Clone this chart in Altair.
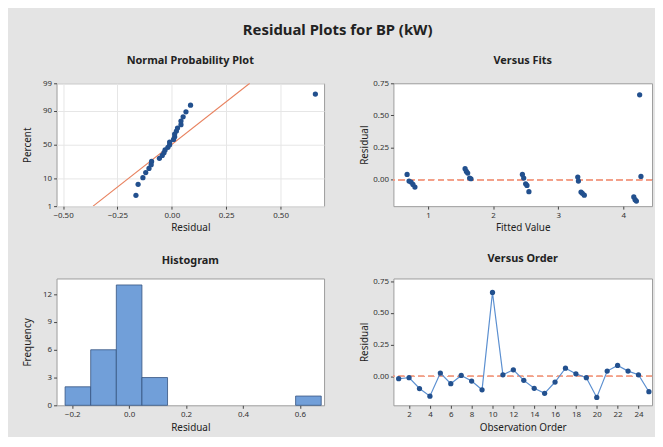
import altair as alt
import pandas as pd
import numpy as np
from statistics import NormalDist

# ---------------- data ----------------
order = list(range(1, 26))
residuals = [-0.018, -0.010, -0.095, -0.155, 0.026, -0.057, 0.008, -0.036, -0.105, 0.660,
             0.013, 0.052, -0.031, -0.093, -0.133, -0.044, 0.065, 0.021, -0.010, -0.165,
             0.042, 0.086, 0.042, 0.013, -0.120]
fits = [0.74, 0.71, 3.35, 4.18, 4.27, 0.80, 1.66, 0.77, 3.37, 4.25,
        1.64, 1.61, 2.50, 2.55, 4.16, 2.52, 1.59, 3.30, 3.31, 4.20,
        0.68, 1.57, 2.45, 2.47, 3.40]
pct_ticks = [1, 10, 50, 90, 99]
np_x_ticks = [-0.50, -0.25, 0.00, 0.25, 0.50]
hist_x_ticks = [-0.2, 0.0, 0.2, 0.4, 0.6]
hist_y_ticks = [0, 3, 6, 9, 12]
fit_x_ticks = [1, 2, 3, 4]
res_y_ticks = [0.00, 0.25, 0.50, 0.75]
order_x_ticks = list(range(2, 25, 2))
bin_start = -0.225
bin_width = 0.09
n_bins = 10

FONT = "Noto Sans"
DOT = "#22508e"
LINE_BLUE = "#5b8fd0"
FIT_RED = "#e8815e"
REF = "#f2a08a"
BAR_FILL = "#719fd9"
BAR_STROKE = "#34537f"

# ---------------- derived tables ----------------
nd = NormalDist()
n = len(residuals)
sorted_res = sorted(residuals)
zq = [nd.inv_cdf((i - 0.3) / (n + 0.4)) for i in range(1, n + 1)]
np_df = pd.DataFrame({"res": sorted_res, "z": zq})
mean = float(np.mean(residuals))
sd = float(np.std(residuals, ddof=1))
zlo, zhi = nd.inv_cdf(0.01), nd.inv_cdf(0.99)
line_df = pd.DataFrame({"res": [mean + sd * zlo, mean + sd * zhi], "z": [zlo, zhi]})
z_ticks = [nd.inv_cdf(p / 100) for p in pct_ticks]
label_expr = "".join(
    f"abs(datum.value - ({z:.6f})) < 0.001 ? '{p}' : " for z, p in zip(z_ticks, pct_ticks)
) + "''"

edges = bin_start + bin_width * np.arange(n_bins + 1)
counts, _ = np.histogram(residuals, bins=edges)
hist_df = pd.DataFrame({"lo": edges[:-1], "hi": edges[1:], "count": counts})
hist_df = hist_df[hist_df["count"] > 0]

df = pd.DataFrame({"order": order, "res": residuals, "fit": fits})


def ptitle(t):
    return alt.TitleParams(t, fontSize=11, fontWeight="bold", offset=13, anchor="middle",
                           font=FONT, color="#222222")


# ---------------- panel 1: normal probability ----------------
x1 = alt.X("res:Q", scale=alt.Scale(domain=[-0.53, 0.70], nice=False, zero=False),
           axis=alt.Axis(title="Residual", values=np_x_ticks, format=".2f", grid=True))
y1 = alt.Y("z:Q", scale=alt.Scale(domain=[zlo, zhi], nice=False, zero=False),
           axis=alt.Axis(title="Percent", values=z_ticks, labelExpr=label_expr, grid=True))
np_line = alt.Chart(line_df).mark_line(color=FIT_RED, strokeWidth=1.2, clip=True).encode(x=x1, y=y1)
np_pts = alt.Chart(np_df).mark_circle(size=28, color=DOT, opacity=1).encode(x=x1, y=y1)
p1 = alt.layer(np_line, np_pts).properties(width=270, height=124,
                                           title=ptitle("Normal Probability Plot"))

# ---------------- panel 2: versus fits ----------------
x2 = alt.X("fit:Q", scale=alt.Scale(domain=[0.47, 4.44], nice=False, zero=False),
           axis=alt.Axis(title="Fitted Value", values=fit_x_ticks, format="d"))
y2 = alt.Y("res:Q", scale=alt.Scale(domain=[-0.205, 0.75], nice=False, zero=False),
           axis=alt.Axis(title="Residual", values=res_y_ticks, format=".2f"))
ref2 = alt.Chart(df).mark_rule(color=REF, strokeDash=[6, 4], strokeWidth=1).encode(y=alt.datum(0))
pts2 = alt.Chart(df).mark_circle(size=28, color=DOT, opacity=1).encode(x=x2, y=y2)
p2 = alt.layer(ref2, pts2).properties(width=261, height=124, title=ptitle("Versus Fits"))

# ---------------- panel 3: histogram ----------------
x3 = alt.X("lo:Q", scale=alt.Scale(domain=[-0.255, 0.685], nice=False, zero=False),
           axis=alt.Axis(title="Residual", values=hist_x_ticks, format=".1f"))
y3 = alt.Y("count:Q", scale=alt.Scale(domain=[0, 13.7], nice=False),
           axis=alt.Axis(title="Frequency", values=hist_y_ticks, format="d"))
p3 = alt.Chart(hist_df).mark_rect(fill=BAR_FILL, stroke=BAR_STROKE, strokeWidth=0.8).encode(
    x=x3, x2="hi:Q", y=y3, y2=alt.datum(0)
).properties(width=270, height=128, title=ptitle("Histogram"))

# ---------------- panel 4: versus order ----------------
x4 = alt.X("order:Q", scale=alt.Scale(domain=[0.5, 25.3], nice=False, zero=False),
           axis=alt.Axis(title="Observation Order", values=order_x_ticks, format="d"))
y4 = alt.Y("res:Q", scale=alt.Scale(domain=[-0.227, 0.77], nice=False, zero=False),
           axis=alt.Axis(title="Residual", values=res_y_ticks, format=".2f"))
ref4 = alt.Chart(df).mark_rule(color=REF, strokeDash=[6, 4], strokeWidth=1).encode(y=alt.datum(0))
line4 = alt.Chart(df).mark_line(color=LINE_BLUE, strokeWidth=1.2).encode(x=x4, y=y4)
pts4 = alt.Chart(df).mark_circle(size=28, color=DOT, opacity=1).encode(x=x4, y=y4)
p4 = alt.layer(ref4, line4, pts4).properties(width=261, height=128, title=ptitle("Versus Order"))

row1 = alt.hconcat(p1, p2, spacing=34)
row2 = alt.hconcat(p3, p4, spacing=34)

chart = alt.vconcat(row1, row2, spacing=19).properties(
    title=alt.TitleParams("Residual Plots for BP (kW)", anchor="middle", fontSize=15,
                          fontWeight="bold", offset=17, font=FONT, color="#222222"),
    padding={"left": 14, "top": 13, "right": 2, "bottom": 2},
    background="#e4e4e4",
).configure_view(
    fill="white", stroke="#9c9c9c", strokeWidth=1
).configure_axis(
    domain=False, grid=False, tickColor="#444444", tickSize=3, labelPadding=2,
    labelColor="#333333", titleColor="#222222", labelFont=FONT, titleFont=FONT,
    labelFontSize=8, titleFontSize=10, titleFontWeight="normal", gridColor="#e6e6e6"
).configure_axisY(
    minExtent=22, maxExtent=22, titlePadding=2
).configure_axisX(
    titlePadding=4
)

chart.save("out.html", embed_options={"renderer": "svg", "actions": False})
